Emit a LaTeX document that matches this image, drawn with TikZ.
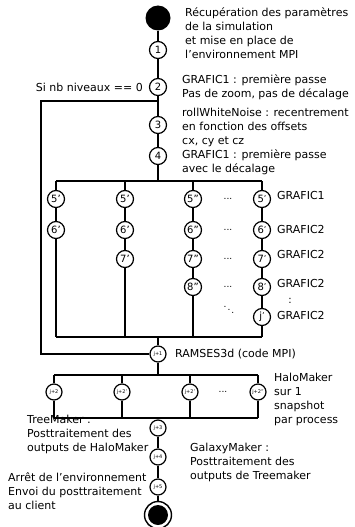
\documentclass[tikz,border=0pt]{standalone}
\usepackage{fontspec}
\setmainfont{DejaVu Sans}
\usetikzlibrary{positioning}

\newcommand{\prim}{\raisebox{1.5pt}{\fontsize{8}{8}\selectfont '}}

\tikzset{
  etape/.style={circle, draw, line width=1.2pt, fill=white, minimum size=17pt, inner sep=0pt, font=\fontsize{10}{10}\selectfont},
  petite/.style={etape, minimum size=16pt, font=\fontsize{5}{5}\selectfont},
  lien/.style={line width=1.3pt},
  texte/.style={anchor=north west, align=left, inner sep=0pt, font=\fontsize{11}{14}\selectfont},
  ligne/.style={texte, anchor=base west},
  points/.style={inner sep=0pt, font=\fontsize{9}{9}\selectfont}
}

\begin{document}
\begin{tikzpicture}[x=1pt, y=-1pt]
\useasboundingbox (0,0) rectangle (354,527);

% chaine principale
\node[circle, fill=black, minimum size=25pt, inner sep=0pt] (debut) at (158,18) {};
\node[etape] (e1) at (158,50) {1};
\node[etape] (e2) at (158,87) {2};
\node[etape] (e3) at (158,125) {3};
\node[etape] (e4) at (158,156) {4};

% branches paralleles
\coordinate (hautG) at (56,181);
\coordinate (hautB) at (125,181);
\coordinate (hautM) at (158,181);
\coordinate (hautC) at (193,181);
\coordinate (hautD) at (262,181);
\coordinate (basG) at (56,337);
\coordinate (basB) at (125,337);
\coordinate (basM) at (158,337);
\coordinate (basC) at (193,337);
\coordinate (basD) at (262,337);

\node[etape] (a5) at (56,199) {5'};
\node[etape] (a6) at (56,230) {6'};
\node[etape] (b5) at (125,199) {5'};
\node[etape] (b6) at (125,230) {6'};
\node[etape] (b7) at (125,259) {7'};
\node[etape] (c5) at (193,199) {5''};
\node[etape] (c6) at (193,230) {6''};
\node[etape] (c7) at (193,259) {7''};
\node[etape] (c8) at (193,287) {8''};
\node[etape] (d5) at (262,199) {5\prim};
\node[etape] (d6) at (262,230) {6\prim};
\node[etape] (d7) at (262,259) {7\prim};
\node[etape] (d8) at (262,287) {8\prim};
\node[etape] (dj) at (262,317) {j\prim};

\node[points] (p5) at (228,199) {...};
\node[points] (p6) at (228,230) {...};
\node[points] (p7) at (228,259) {...};
\node[points] (p8) at (228,287) {...};
\node[points] (pd) at (229,307) {$\ddots$};

% saut si nb niveaux == 0
\coordinate (sautH) at (158,101);
\coordinate (sautD) at (41,101);
\coordinate (sautB) at (41,354);

\node[petite] (j1) at (158,354) {j+1};

% halomaker
\coordinate (haloH) at (158,375);
\coordinate (haloHG) at (54,375);
\coordinate (haloHB) at (122,375);
\coordinate (haloHC) at (190,375);
\coordinate (haloHD) at (258,375);
\coordinate (haloB) at (158,418);
\coordinate (haloBG) at (54,418);
\coordinate (haloBB) at (122,418);
\coordinate (haloBC) at (190,418);
\coordinate (haloBD) at (258,418);
\node[petite] (h1) at (54,392) {j+2};
\node[petite] (h2) at (122,392) {j+2'};
\node[petite] (h3) at (190,392) {j+2'};
\node[petite] (h4) at (258,392) {j+2''};
\node[points] (ph) at (223,392) {...};

\node[petite] (j3) at (158,428) {j+3};
\node[petite] (j4) at (158,457) {j+4};
\node[petite] (j5) at (158,487) {j+5};
\node[circle, draw, line width=1.4pt, minimum size=27pt, inner sep=0pt] (finbord) at (158,515) {};
\node[circle, fill=black, minimum size=20pt, inner sep=0pt] (fin) at (158,515) {};

% liens
\draw[lien] (debut) -- (e1) -- (e2) -- (e3) -- (e4) -- (hautM);
\draw[lien] (sautH) -- (sautD) -- (sautB) -- (j1);
\draw[lien] (hautG) -- (hautD);
\draw[lien] (hautG) -- (a5) -- (a6) -- (basG);
\draw[lien] (hautB) -- (b5) -- (b6) -- (b7) -- (basB);
\draw[lien] (hautC) -- (c5) -- (c6) -- (c7) -- (c8) -- (basC);
\draw[lien] (hautD) -- (d5) -- (d6) -- (d7) -- (d8) -- (dj) -- (basD);
\draw[lien] (basG) -- (basD);
\draw[lien] (basM) -- (j1) -- (haloH);
\draw[lien] (haloHG) -- (haloHD);
\draw[lien] (haloHG) -- (h1) -- (haloBG);
\draw[lien] (haloHB) -- (h2) -- (haloBB);
\draw[lien] (haloHC) -- (h3) -- (haloBC);
\draw[lien] (haloHD) -- (h4) -- (haloBD);
\draw[lien] (haloBG) -- (haloBD);
\draw[lien] (haloB) -- (j3) -- (j4) -- (j5) -- (finbord);

% textes
\node[texte] (t0) at (185,8) {Récupération des paramètres\\de la simulation\\et mise en place de\\l'environnement MPI};
\node[texte] (t2) at (182,75) {GRAFIC1 : première passe\\Pas de zoom, pas de décalage};
\node[ligne, anchor=base east] (tsaut) at (143,91) {Si nb niveaux == 0};
\node[texte] (t3) at (182,108) {rollWhiteNoise : recentrement\\en fonction des offsets\\cx, cy et cz};
\node[texte] (t4) at (182,150) {GRAFIC1 : première passe\\avec le décalage};
\node[ligne] (g5) at (277,199) {GRAFIC1};
\node[ligne] (g6) at (277,233) {GRAFIC2};
\node[ligne] (g7) at (277,258) {GRAFIC2};
\node[ligne] (g8) at (277,287) {GRAFIC2};
\node[ligne] (gj) at (277,319) {GRAFIC2};
\node[points, font=\fontsize{10}{10}\selectfont] (pv) at (290,301) {:};
\node[ligne] (tram) at (175,357) {RAMSES3d (code MPI)};
\node[texte] (thalo) at (274,373) {HaloMaker\\sur 1\\snapshot\\par process};
\node[texte] (ttree) at (27,415) {TreeMaker :\\Posttraitement des\\outputs de HaloMaker};
\node[texte] (tgal) at (190,443) {GalaxyMaker :\\Posttraitement des\\outputs de Treemaker};
\node[texte] (tfin) at (8,472) {Arrêt de l'environnement\\Envoi du posttraitement\\au client};
\end{tikzpicture}
\end{document}
